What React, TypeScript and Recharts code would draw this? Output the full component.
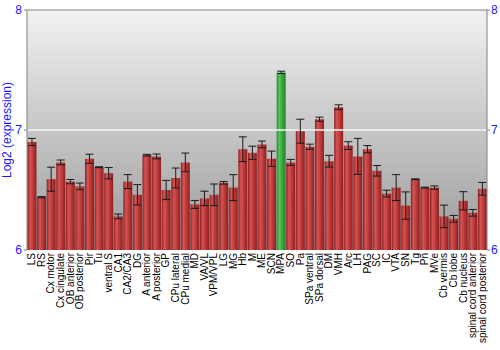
import React from "react";
import {
  Bar,
  BarChart,
  Cell,
  ErrorBar,
  ReferenceArea,
  ReferenceLine,
  XAxis,
  YAxis,
} from "recharts";

const regions = [
  "LS", "RS", "Cx motor", "Cx cingulate", "OB anterior", "OB posterior", "Pir", "Tu",
  "ventral S", "CA1", "CA2/CA3", "DG", "A anterior", "A posterior", "GP", "CPu lateral",
  "CPu medial", "MD", "VA/VL", "VPM/VPL", "LG", "MG", "Hb", "M", "ME", "SCN", "MPA",
  "SO", "Pa", "SPa ventral", "SPa dorsal", "DM", "VMH", "Arc", "LH", "PAG", "SC", "IC",
  "VTA", "SN", "Tg", "Pn", "MVe", "Cb vermis", "Cb lobe", "Cb nucleus",
  "spinal cord anterior", "spinal cord posterior",
];

const expression = [
  6.9, 6.44, 6.59, 6.73, 6.57, 6.53, 6.76, 6.69,
  6.64, 6.28, 6.57, 6.46, 6.79, 6.78, 6.5, 6.6,
  6.73, 6.38, 6.43, 6.46, 6.56, 6.52, 6.84, 6.81, 6.88, 6.76, 7.48,
  6.73, 6.99, 6.86, 7.09, 6.74, 7.19, 6.87, 6.78, 6.84, 6.66, 6.47,
  6.52, 6.37, 6.59, 6.52, 6.52, 6.28, 6.26, 6.41,
  6.31, 6.51,
];

const stdErr = [
  0.03, 0.005, 0.1, 0.02, 0.018, 0.028, 0.038, 0.004,
  0.047, 0.02, 0.058, 0.085, 0.007, 0.02, 0.08, 0.083,
  0.078, 0.033, 0.06, 0.09, 0.011, 0.108, 0.103, 0.055, 0.028, 0.064, 0.01,
  0.025, 0.1, 0.022, 0.017, 0.049, 0.02, 0.032, 0.15, 0.03, 0.044, 0.028,
  0.108, 0.114, 0.003, 0.004, 0.014, 0.094, 0.028, 0.076,
  0.028, 0.053,
];

const highlighted = ["MPA"];
const yTicks = [6, 7, 8];

const data = regions.map((name, i) => ({
  name,
  value: expression[i],
  err: stdErr[i],
}));

const font = "'Liberation Sans', Arial, sans-serif";
const blue = "#1a1aff";

// vertical category label, centred on the band, reading bottom-to-top
function RegionTick(props: any) {
  const { x, payload } = props;
  const y = 253;
  return (
    <text
      x={x}
      y={y}
      dy="0.35em"
      transform={`rotate(-90, ${x}, ${y})`}
      textAnchor="end"
      fill="#000"
      fontSize={10}
      fontFamily={font}
    >
      {payload.value}
    </text>
  );
}

export default function App() {
  return (
    <div style={{ position: "absolute", left: 0, top: 0, width: 500, height: 350, background: "#fff" }}>
      <BarChart
        width={500}
        height={350}
        data={data}
        margin={{ top: 10, right: 0, bottom: 0, left: 0 }}
        barCategoryGap="5%"
      >
        <defs>
          <linearGradient id="bg" x1="0" y1="0" x2="0" y2="1">
            <stop offset="0%" stopColor="#f2f2f2" />
            <stop offset="100%" stopColor="#9a9a9a" />
          </linearGradient>
          <linearGradient id="redBar" x1="0" y1="0" x2="1" y2="0">
            <stop offset="0%" stopColor="#8c2222" />
            <stop offset="30%" stopColor="#d65454" />
            <stop offset="60%" stopColor="#bf3a3a" />
            <stop offset="100%" stopColor="#8a1f1f" />
          </linearGradient>
          <linearGradient id="greenBar" x1="0" y1="0" x2="1" y2="0">
            <stop offset="0%" stopColor="#2a8a2e" />
            <stop offset="30%" stopColor="#55c65a" />
            <stop offset="60%" stopColor="#3aa83f" />
            <stop offset="100%" stopColor="#278029" />
          </linearGradient>
        </defs>
        <XAxis
          dataKey="name"
          interval={0}
          height={100}
          axisLine={false}
          tickLine={false}
          tick={<RegionTick />}
        />
        <YAxis
          yAxisId="left"
          orientation="left"
          width={27}
          domain={[6, 8]}
          ticks={yTicks}
          allowDataOverflow
          stroke="#808080"
          tickSize={3}
          tick={{ fill: blue, fontSize: 12, fontFamily: font }}
          label={{
            value: "Log2 (expression)",
            angle: -90,
            position: "insideLeft",
            dx: 2,
            style: { fill: blue, fontSize: 12, fontFamily: font, textAnchor: "middle" },
          }}
        />
        <YAxis
          yAxisId="right"
          orientation="right"
          width={13}
          domain={[6, 8]}
          ticks={yTicks}
          allowDataOverflow
          stroke="#808080"
          tickSize={3}
          tickMargin={1}
          tick={{ fill: blue, fontSize: 12, fontFamily: font }}
        />
        <ReferenceArea yAxisId="left" y1={6} y2={8} fill="url(#bg)" fillOpacity={1} stroke="none" />
        <ReferenceLine yAxisId="left" y={7} stroke="#f4f4f4" strokeWidth={1.5} />
        <ReferenceLine yAxisId="left" y={8} stroke="#808080" />
        <Bar yAxisId="left" dataKey="value" isAnimationActive={false}>
          {data.map((d) => (
            <Cell
              key={d.name}
              fill={highlighted.includes(d.name) ? "url(#greenBar)" : "url(#redBar)"}
            />
          ))}
          <ErrorBar dataKey="err" direction="y" width={4} stroke="#1a1a1a" strokeWidth={1} />
        </Bar>
      </BarChart>
    </div>
  );
}
